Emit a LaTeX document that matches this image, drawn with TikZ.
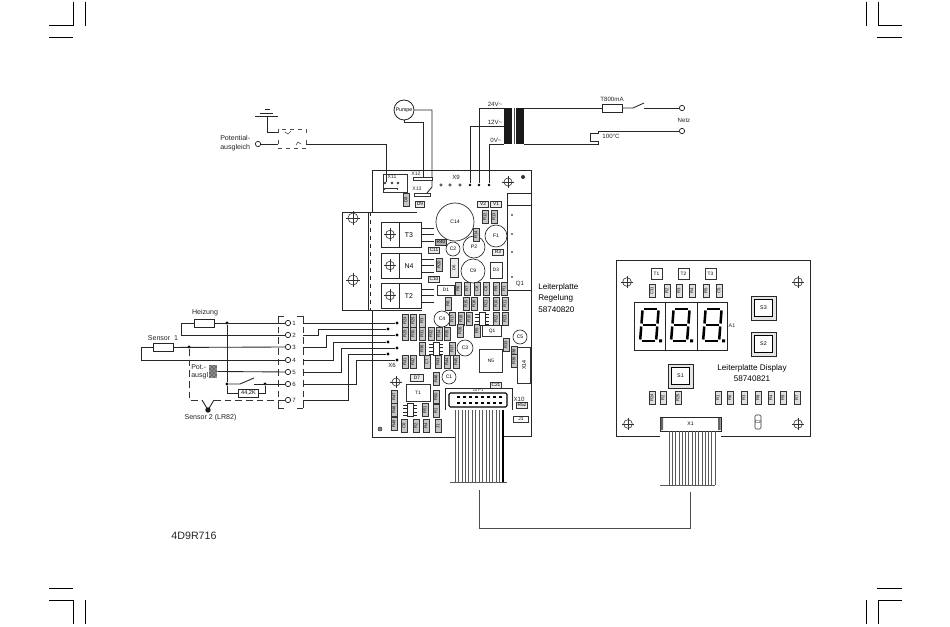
\documentclass[tikz,border=0pt]{standalone}
\usepackage{fontspec}
\setmainfont{Liberation Sans}
\usetikzlibrary{patterns}
\newcommand{\fsz}[1]{\fontsize{#1}{#1}\selectfont}
\tikzset{
  wire/.style={draw=black!85,line width=0.65pt,line join=miter},
  thin wire/.style={draw=black!70,line width=0.45pt},
  lbl/.style={inner sep=0pt,font=\fsz{5.3},text=black!85},
  smalllbl/.style={inner sep=0pt,font=\fsz{4.6},text=black!85},
  biglbl/.style={inner sep=0pt,font=\fsz{6.1},text=black},
  vpart/.style={draw=black!80,line width=0.4pt,fill=black!22,inner sep=0pt,minimum width=9.5pt,minimum height=4.5pt,rotate=90,font=\fsz{3.2}},
  hpart/.style={draw=black!80,line width=0.4pt,fill=black!8,inner sep=0pt,minimum width=8.5pt,minimum height=4.5pt,font=\fsz{3.6}},
  termo/.style={circle,draw=black!85,fill=white,line width=0.55pt,inner sep=0pt,minimum size=4pt},
  jdot/.style={circle,fill=black,inner sep=0pt,minimum size=2.4pt},
  capc/.style={circle,draw=black!85,fill=white,line width=0.5pt,inner sep=0pt,font=\fsz{3.8}},
  box/.style={draw=black!80,line width=0.5pt,fill=white,inner sep=0pt,font=\fsz{4}},
  ribbon/.style={draw=black!65,line width=0.4pt},
  dashwire/.style={draw=black!80,line width=0.6pt,dash pattern=on 5pt off 3pt},
  seg/.style={draw=black,line width=1.9pt,line cap=butt},
}
\newcommand{\crosshair}[3]{%
  \node[circle,draw=black!80,line width=0.45pt,inner sep=0pt,minimum size=#3pt] (#1) at (#2) {};
  \draw[draw=black!80,line width=0.45pt] (#1.center) ++(0,-0.95*#3) -- ++(0,1.9*#3) (#1.center) ++(-0.95*#3,0) -- ++(1.9*#3,0);}
\newcommand{\digit}[2]{% x of lower-left, y bottom
  \begin{scope}[shift={(#1,#2)},xslant=0.08]
    \draw[seg] (2.5,-33)--(15.5,-33);
    \draw[seg] (2.5,-17)--(15.5,-17);
    \draw[seg] (2.5,-1)--(15.5,-1);
    \draw[seg] (1,-31.5)--(1,-18.5);
    \draw[seg] (17,-31.5)--(17,-18.5);
    \draw[seg] (1,-15.5)--(1,-2.5);
    \draw[seg] (17,-15.5)--(17,-2.5);
    \fill (20,-2.5) rectangle (23,0.5);
  \end{scope}}
\begin{document}
\begin{tikzpicture}[x=0.75pt,y=-0.75pt]
\useasboundingbox[fill=white] (0,0) rectangle (950,627);
% ---------- crop marks
\foreach \a/\b/\c/\d in {73/2/73/26,85/2/85/26,49/26/73/26,49/38/73/38,
  866/2/866/26,878/2/878/26,878/26/902/26,877/38/902/38,
  49/588/73/588,49/600/73/600,73/600/73/624,85/600/85/624,
  877/588/902/588,878/600/902/600,866/600/866/624,878/600/878/624}
  \draw[black,line width=0.75pt] (\a,\b)--(\c,\d);
% ---------- ground / potential
\coordinate (g1) at (267,116);
\coordinate (gb) at (278,132);
\draw[wire] (255,116)--(278,116) (260,113)--(273,113) (265,109)--(270,109);
\draw[wire] (g1) |- (gb);
\draw[thin wire,dashed] (278,133)--(278,129)--(306,129)--(306,135);
\draw[thin wire,dashed] (278,140)--(278,148)--(306,148)--(306,140);
\draw[thin wire] (285,132)--(288,134)--(291,131);
\draw[thin wire] (296,145)--(298,142)--(301,144);
\node[termo] (pot) at (258,144) {};
\node[lbl,align=left,anchor=west] (potlbl) at (220,143) {Potential-\\[1pt]ausgleich};
\coordinate (x11a) at (386,182);
\draw[wire] (pot) -- (278,144);
\draw[wire] (306,144) -| (x11a);
% ---------- Pumpe
\node[circle,draw=black!85,line width=0.6pt,inner sep=0pt,minimum size=15pt,font=\fsz{3.9}] (pump) at (404,110) {Pumpe};
\coordinate (x12a) at (423,177);
\coordinate (x13a) at (432,187);
\coordinate (x13b) at (427,193);
\draw[wire] (pump.south) ++(0,0) |- ++(10,2) -| (x12a);
\draw[wire] (pump.east) -| (x13a) -- (x13b);
% ---------- Transformer and mains
\fill[black!90] (504,108) rectangle (512,144);
\fill[black!90] (516,108) rectangle (524,144);
\draw[thin wire] (514,108)--(514,144);
\node[smalllbl] (v24) at (495,104) {24V\textasciitilde};
\node[smalllbl] (v12) at (495,122) {12V\textasciitilde};
\node[smalllbl] (v0) at (496,140) {0V\textasciitilde};
\node[jdot,minimum size=2pt] (p470) at (470,185) {};
\node[jdot,minimum size=2pt] (p479) at (479,185) {};
\node[jdot,minimum size=2pt] (p489) at (489,185) {};
\draw[wire] (p479) |- (504,108);
\draw[wire] (p470) |- (504,126);
\draw[wire] (p489) |- (504,144);
\node[draw=black!85,line width=0.6pt,fill=white,minimum width=15pt,minimum height=6pt,inner sep=0pt] (fuse) at (612,108) {};
\node[smalllbl] (t800) at (612,99) {T800mA};
\draw[wire] (524,108) -- (fuse);
\coordinate (sw1) at (633,108);
\node[termo] (n1) at (682,108) {};
\node[termo] (n2) at (682,131) {};
\node[smalllbl] (netz) at (684,120) {Netz};
\draw[wire] (fuse) -- (sw1) -- (644,103);
\draw[wire] (644,108) -- (n1);
\draw[wire] (524,144) -- (598,144) -- (598,141) -- (590,141) -- (590,133) -- (598,133) -- (598,131) -- (n2);
\node[smalllbl] (t100) at (611,136) {100°C};
% ---------- Main board outline
\draw[wire] (372,212) -- (372,170) -- (531,170) -- (531,436) -- (503,436);
\draw[wire] (455,437) -- (372,437) -- (372,310);
\draw[wire,dashed,line width=0.6pt] (370,212) -- (370,310);
% Q1 block
\draw[wire,line width=0.5pt] (507,193) rectangle (531,290);
\draw[wire,line width=0.5pt] (507,205) -- (531,205);
\node[smalllbl] (q1) at (520,284) {Q1};
\foreach \y in {215,234,252,277} \fill (512,\y) circle (0.7pt);
% heatsink
\draw[wire] (417,212) -- (342,212) -- (342,310) -- (422,310);
\draw[wire] (368,212) -- (368,310);
\crosshair{hs1}{353,218}{7.5}
\crosshair{hs2}{353,280}{7.5}
% X9 pins etc.
\node[smalllbl] (x9) at (456,177) {X9};
\foreach \x in {441,450,460} \draw[black!85,line width=0.4pt] (\x,185) circle (1.3);
\crosshair{ch1}{508,182}{6}
\node[circle,fill=black!80,inner sep=0pt,minimum size=3pt] (h1) at (523,177) {};
% X11
\node[draw=black!80,line width=0.5pt,minimum width=18pt,minimum height=13.5pt,inner sep=0pt] (x11) at (395,183) {};
\node[smalllbl,font=\fsz{3.8}] (x11l) at (392,177) {X11};
\foreach \x in {385,392,398} \draw[black!85,line width=0.4pt] (\x,183) circle (1);
\draw[black!80,line width=0.4pt] (384,190)--(384,188)--(397,188)--(397,190);
\node[smalllbl,font=\fsz{3.8}] (x12) at (416,174) {X12};
\draw[black!80,line width=0.4pt,fill=white] (413,177) rectangle (432,180);
\node[smalllbl,font=\fsz{3.8}] (x13) at (417,189) {X13};
\draw[black!80,line width=0.4pt,fill=white] (414,193) rectangle (430,196);
% transistors
\foreach \n/\yy in {T3/222,N4/253,T2/283}{
  \draw[black!85,line width=0.6pt,fill=white] (381,\yy) rectangle (421,\yy+25);
  \draw[black!85,line width=0.5pt] (399,\yy)--(399,\yy+25);
  \node[font=\fsz{5.2},inner sep=0pt] (tr\n) at (409,\yy+13) {\n};
  \crosshair{tc\n}{390,\yy+12.5}{6.5}
  \foreach \d in {6,12.5,19} \draw[black!85,line width=0.55pt] (421,\yy+\d)--(434,\yy+\d);
}
% capacitors
\node[capc,minimum size=28.5pt] (c14) at (455,222) {C14};
\node[capc,minimum size=16.5pt] (f1) at (496,236) {F1};
\node[capc,minimum size=16.5pt] (p2) at (474,247) {P2};
\node[capc,minimum size=10.5pt] (c2) at (453,249) {C2};
\node[capc,minimum size=18pt] (c9) at (473,271) {C9};
\node[capc,minimum size=12pt] (c4) at (442,319) {C4};
\node[capc,minimum size=12pt] (c3) at (465,348) {C3};
\node[capc,minimum size=10.5pt] (c1) at (449,377) {C1};
\node[capc,minimum size=10.5pt] (c5) at (520,337) {C5};
% boxes
\node[hpart,minimum width=7pt,minimum height=4.5pt] (d9) at (420,204) {D9};
\node[hpart] (v2) at (483,204) {V2};
\node[hpart] (v1) at (496,204) {V1};
\node[hpart,fill=black!30] (r40) at (441,242) {R40};
\node[hpart] (c11) at (434,250) {C11};
\node[hpart] (r3) at (498,252) {R3};
\node[hpart] (c10) at (434,279) {C10};
\node[hpart,minimum width=13pt,minimum height=7.5pt,fill=white] (d1) at (446,290) {D1};
\node[hpart,minimum width=9pt,minimum height=12pt,fill=white] (d3) at (496,270) {D3};
\node[hpart,minimum width=14pt,minimum height=8pt,fill=white] (q01) at (492,331) {Q1};
\node[hpart,minimum width=17pt,minimum height=17pt,fill=white] (n5) at (491,361) {N5};
\node[hpart,minimum width=10pt,minimum height=5.5pt] (d7b) at (417,378) {D7};
\node[hpart,minimum width=18pt,minimum height=13pt,fill=white] (t1m) at (418,393) {T1};
\node[hpart,minimum width=10pt,minimum height=27pt,fill=white] (x14) at (524,365) {};
\node[rotate=90,font=\fsz{4},inner sep=0pt] (x14l) at (524,365) {X14};
\node[hpart] (c21) at (496,385) {C21};
\node[hpart] (r52) at (522,405) {R52};
\node[hpart,minimum width=11pt,minimum height=4.5pt,fill=white] (j1) at (521,419) {J1};
\node[smalllbl] (x6) at (392,365) {X6};
\node[smalllbl] (x10) at (519,399) {X10};
% vertical small parts (main board)
\foreach \i/\x/\y/\t in {a/406/200/D8,b/485/217/R12,c/494/217/R13,d/476/235/R14,e/439/265/R20,
  g/458/289/R6,h/467/289/R7,i/477/289/C8,j/486/289/C6,k/496/289/R9,l/504/289/R1,
  m/448/304/R8,n/466/304/R15,o/474/304/R16,p/486/304/R21,q/496/304/R10,r/505/304/R11,
  s/452/319/R17,t/461/319/R18,u/469/319/R19,v/496/319/R22,w/505/319/R23,
  x/460/331/R26,y/477/331/R5,z/506/345/R33,
  aa/405/321/R24,ab/413/321/R25,ac/422/321/R3,
  ad/405/334/R29,ae/413/334/R30,af/422/334/R31,ag/431/334/R32,ah/439/334/R34,ai/447/334/R35,
  aj/422/349/R36,ak/452/349/R37,
  al/405/362/R41,am/413/362/R42,an/427/362/C7,ao/438/362/R43,ap/447/362/R44,aq/456/362/R45,
  ar/436/379/R46,as/514/353/R38,at/514/361/R39,
  au/394/397/R47,av/394/410/R48,aw/394/424/R49,ax/436/397/R50,ay/436/411/R1,
  ba/404/426/C6,bb/416/426/R2,bc/426/426/R4,bd/438/426/J1,be/425/410/R51}
  \node[vpart] (m\i) at (\x,\y) {\t};
\node[vpart,minimum width=14pt,minimum height=6pt,fill=black!8] (d6) at (454,268) {D6};
% dense ICs
\foreach \xx/\yy/\n in {482/319/ica,436/349/icb,410/410/icc}{
  \foreach \d in {-5,-1.5,2,5.5} \draw[black!85,line width=0.5pt] (\xx-7,\yy+\d)--(\xx+7,\yy+\d);
  \node[draw=black!85,line width=0.5pt,fill=white,minimum width=4.5pt,minimum height=9.5pt,inner sep=0pt] (\n) at (\xx,\yy) {};
}
\crosshair{ch2}{396,382}{6}
\node[circle,draw=black!80,fill=black!50,line width=0.4pt,inner sep=0pt,minimum size=3pt] (h2) at (380,429) {};
% X10 connector
\draw[black!85,line width=0.5pt] (445,410) -- (445,388) -- (512,388) -- (512,410);
\draw[black,line width=0.8pt,rounded corners=1pt,fill=white] (449,393) rectangle (507,407);
\foreach \i in {0,...,7} \foreach \y in {397,403} \fill (456.5+6*\i,\y-1.2) rectangle (459.5+6*\i,\y+1.2);
\node[smalllbl,font=\fsz{3}] (x10m) at (478,390.5) {15 P1};
% ribbon main
\foreach \i in {0,...,14} \draw[ribbon] (455+3.43*\i,410)--(455+3.43*\i,482);
\draw[black,line width=1pt] (503,410)--(503,482);
\draw[ribbon] (450,482)--(507,482);
% ---------- Display board
\draw[wire] (660,436) -- (616,436) -- (616,260) -- (810,260) -- (810,436) -- (721,436);
\node[hpart,minimum width=8pt,minimum height=8pt,fill=white] (dt1) at (656.5,273.5) {T1};
\node[hpart,minimum width=8pt,minimum height=8pt,fill=white] (dt2) at (683.5,273.5) {T2};
\node[hpart,minimum width=8pt,minimum height=8pt,fill=white] (dt3) at (710.5,273.5) {T3};
\crosshair{dc1}{627,282}{6.5}
\crosshair{dc2}{798,282}{6.5}
\crosshair{dc3}{628,424}{6.5}
\crosshair{dc4}{798,424}{6.5}
\foreach \i/\x/\y/\t in {a/652/291/C31,b/667/291/R2,c/679/291/R3,d/692/291/R4,e/706/291/R5,f/719/291/C5,
  g/652/398/R24,h/663/398/R2,i/678/398/R25,
  j/718/398/R1,k/730/398/R6,l/744/398/R3,m/758/398/R8,n/771/398/R4,o/783/398/R9,p/797/398/R7}
  \node[vpart,fill=black!12] (p\i) at (\x,\y) {\t};
\draw[black!85,line width=0.7pt,fill=white] (634,302) rectangle (727,350);
\draw[black!85,line width=0.6pt] (665,302)--(665,350) (697,302)--(697,350);
\digit{639}{342}
\digit{670}{342}
\digit{702}{342}
\node[smalllbl,font=\fsz{4}] (a1) at (732,326) {A1};
\foreach \n/\xa/\ya in {S3/751/296,S2/751/332,S1/668/364}{
  \draw[black!85,line width=0.7pt,fill=black!10] (\xa,\ya) rectangle (\xa+25,\ya+24);
  \node[draw=black,line width=0.9pt,fill=white,minimum width=13pt,minimum height=12.5pt,inner sep=0pt,font=\fsz{4}] (\n) at (\xa+12.5,\ya+12) {\n};
}
\node[biglbl] (lpd) at (752,368) {Leiterplatte Display};
\node[biglbl] (lpdn) at (752,379) {58740821};
\node[draw=black!85,line width=0.5pt,fill=white,minimum width=45.5pt,minimum height=10.5pt,inner sep=0pt,font=\fsz{3.8}] (x1) at (690.5,424) {X1};
\fill[black!60] (660.5,418) rectangle (663,430) (718,418) rectangle (720.5,430);
\node[draw=black!80,line width=0.4pt,rounded corners=1pt,minimum width=4.5pt,minimum height=10.5pt,inner sep=0pt,font=\fsz{3.4},rotate=0] (c2d) at (758,422) {C2};
\foreach \i in {0,...,14} \draw[ribbon] (669+3.28*\i,431)--(669+3.28*\i,485);
\draw[ribbon] (660,485)--(715,485);
% link between ribbons
\coordinate (la) at (479,490);
\coordinate (lc) at (479,528);
\coordinate (ld) at (690,528);
\coordinate (lb) at (690,492);
\draw[thin wire] (la) -- (lc) -- (ld) -- (lb);
% ---------- main board text
\node[biglbl,align=left,anchor=west] (lpr) at (538,298) {Leiterplatte\\[2.6pt]Regelung\\[2.6pt]58740820};
\node[font=\fsz{8},inner sep=0pt,text=black!85] (code) at (194,536) {4D9R716};
% ---------- Sensor wiring
\foreach \n/\y in {1/323,2/335,3/347,4/360,5/372,6/384,7/400}{
  \node[termo] (t\n) at (288,\y) {};
  \node[smalllbl] (tn\n) at (294,\y) {\n};
  \coordinate (r\n) at (303,\y);
}
\draw[dashwire] (278,316)--(284,316) (297,316)--(303,316);
\draw[dashwire] (278,408)--(284,408) (297,408)--(303,408);
\draw[dashwire] (278,316)--(278,408);
\draw[dashwire] (303,316)--(303,408);
\node[draw=black!85,line width=0.6pt,fill=white,minimum width=14.5pt,minimum height=6pt,inner sep=0pt] (heiz) at (204.5,323) {};
\node[lbl] (hl) at (205,313) {Heizung};
\node[jdot] (j1a) at (227,323) {};
\node[jdot] (j6a) at (227,384) {};
\node[jdot] (j6b) at (265,384) {};
\node[jdot] (js1) at (189,347) {};
\draw[wire] (heiz) -- (t1);
\draw[wire] (heiz.west) -- ++(-13,0) |- (t2);
\draw[wire] (j1a) -- (j6a);
\node[draw=black!85,line width=0.6pt,fill=white,minimum width=15pt,minimum height=6pt,inner sep=0pt,font=\fsz{4.2}] (r44) at (248.5,393) {44,2K};
\draw[wire] (j6a) |- (r44);
\draw[wire] (r44) -| (j6b);
\draw[wire] (j6a) -- (240,384) -- (254,378);
\draw[wire] (254,384) -- (t6);
\node[draw=black!85,line width=0.6pt,fill=white,minimum width=15pt,minimum height=6.5pt,inner sep=0pt] (sens) at (163,347.5) {};
\node[lbl] (sl) at (163,338) {Sensor\ \ 1};
\draw[wire] (sens) -- (t3);
\draw[wire] (sens.west) -- (141,347.5) -- (141,360) -- (t4);
\node[lbl,align=left,anchor=west] (pol) at (191,371.5) {Pot.-\\[0.8pt]ausgl};
\node[minimum width=6pt,minimum height=9.5pt,inner sep=0pt,preaction={fill=black!45},pattern=crosshatch dots,pattern color=black] (hat) at (213,371.5) {};
\draw[wire] (hat.east) -- (t5);
\draw[dashwire] (js1) -- (189,400) -- (202,400);
\draw[dashwire] (214,400) -- (t7);
\coordinate (s2v) at (208,410);
\draw[wire] (202,400) -- (s2v) -- (214,400);
\node[circle,fill=black!90,inner sep=0pt,minimum size=4pt] (s2) at (s2v) {};
\node[lbl] (s2l) at (210.5,418) {Sensor 2 (LR82)};
% right side wires
\node[jdot] (e1) at (397,323) {};
\node[jdot] (e2) at (388,329) {};
\node[jdot] (e3) at (397,335) {};
\node[jdot] (e4) at (388,342) {};
\node[jdot] (e5) at (397,348) {};
\node[jdot] (e6) at (388,354) {};
\node[jdot] (e7) at (397,360) {};
\draw[wire] (r1) -- (e1);
\draw[wire] (r2) -- (318,335) |- (e2);
\draw[wire] (r3) -- (326,347) |- (e3);
\draw[wire] (r4) -- (333,360) |- (e4);
\draw[wire] (r5) -- (341,372) |- (e5);
\draw[wire] (r6) -- (356,384) |- (e7);
\draw[wire] (r7) -- (348,400) |- (e6);
\end{tikzpicture}
\end{document}
